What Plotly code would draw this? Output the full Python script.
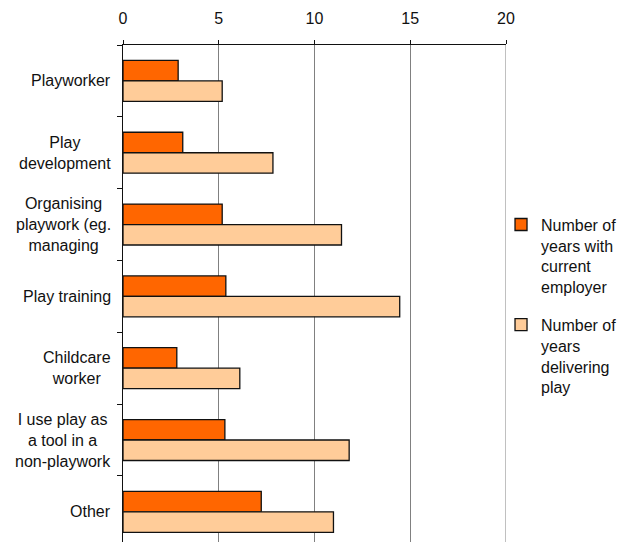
import plotly.graph_objects as go

# Job roles (top to bottom) and their wrapped display labels
categories = ["Playworker", "Play development", "Organising playwork (eg. managing",
              "Play training", "Childcare worker",
              "I use play as a tool in a non-playwork", "Other"]
category_labels = ["Playworker", "Play<br>development", "Organising<br>playwork (eg.<br>managing",
                   "Play training", "Childcare<br>worker",
                   "I use play as<br>a tool in a<br>non-playwork", "Other"]

# Average years per role
years_current_employer = [2.88, 3.12, 5.18, 5.37, 2.81, 5.32, 7.22]
years_delivering_play = [5.18, 7.83, 11.41, 14.45, 6.10, 11.81, 10.99]

series_names = ["Number of<br>years with<br>current<br>employer",
                "Number of<br>years<br>delivering<br>play"]
series_colors = ["#FF6600", "#FFCC99"]

x_ticks = [0, 5, 10, 15, 20]

FONT = "Liberation Sans, Arial, sans-serif"
GRID = "#808080"

fig = go.Figure()
for name, vals, col, grp in zip(series_names,
                                [years_current_employer, years_delivering_play],
                                series_colors, ["a", "b"]):
    fig.add_trace(go.Bar(
        y=categories, x=vals, name=name, orientation="h",
        marker=dict(color=col, line=dict(color="#111111", width=1.3)),
        legendgroup=grp,
    ))

# Centered multi-line role labels to the left of the axis
for cat, lab in zip(categories, category_labels):
    fig.add_annotation(
        x=0, xref="paper", y=cat, yref="y", text=lab, showarrow=False,
        xanchor="right", yanchor="middle", align="center", xshift=-10,
        font=dict(family=FONT, size=16, color="#111111"),
    )

# Gridline at the axis maximum sits on the plot edge, so draw it explicitly
fig.add_shape(type="line", xref="x", yref="paper",
              x0=x_ticks[-1], x1=x_ticks[-1], y0=0, y1=1,
              line=dict(color=GRID, width=1), layer="below")

fig.update_layout(
    width=619, height=542,
    margin=dict(l=123, r=113, t=45, b=0, autoexpand=False),
    paper_bgcolor="white", plot_bgcolor="white",
    barmode="group", bargap=0.43, bargroupgap=0,
    font=dict(family=FONT, size=16, color="#111111"),
    showlegend=True,
    legend=dict(xref="container", x=0.8094, xanchor="left",
                yref="container", y=0.617, yanchor="top",
                valign="top", traceorder="grouped", tracegroupgap=14,
                font=dict(family=FONT, size=16, color="#111111"),
                bgcolor="rgba(0,0,0,0)"),
)

fig.update_xaxes(
    side="top", range=[0, 20], tickvals=x_ticks,
    showline=True, linecolor="#111111", linewidth=1,
    ticks="outside", ticklen=4, tickcolor="#111111",
    ticklabelstandoff=10,
    showgrid=True, gridcolor=GRID, gridwidth=1,
    zeroline=False, tickfont=dict(family=FONT, size=16, color="#111111"),
)
fig.update_yaxes(
    categoryorder="array", categoryarray=categories,
    range=[6.42, -0.5], showticklabels=False,
    showline=True, linecolor="#111111", linewidth=1.3,
    ticks="outside", tickson="boundaries", ticklen=5, tickcolor="#111111",
    showgrid=False, zeroline=False,
)

fig.write_html("out.html")
